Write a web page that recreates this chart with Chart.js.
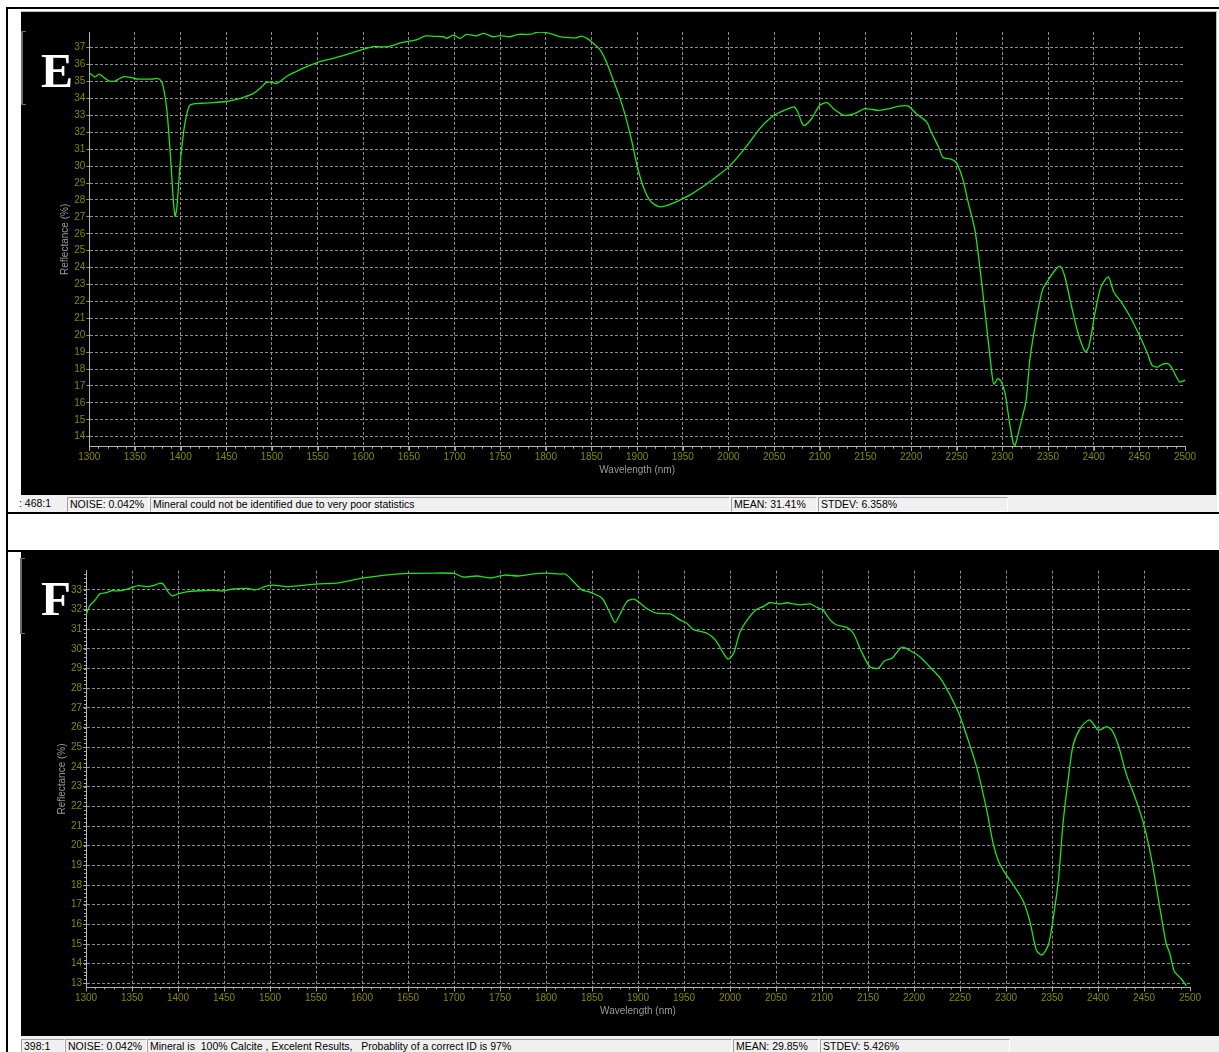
<!DOCTYPE html>
<html>
<head>
<meta charset="utf-8">
<title>Reflectance spectra E and F</title>
<script src="https://cdn.jsdelivr.net/npm/chart.js@4.4.1/dist/chart.umd.min.js"></script>
<style>
body { margin: 0; background: #fff; width: 1219px; height: 1052px; overflow: hidden; position: relative; font-family: "Liberation Sans", Arial, sans-serif; }
.rule { position: absolute; background: #000; }
.panel { position: absolute; background: #000; }
.status { position: absolute; background: #f0f0f0; }
.cell { position: absolute; box-sizing: border-box; border-left: 1px solid #a0a0a0; border-top: 1px solid #a0a0a0; border-right: 1px solid #fff; border-bottom: 1px solid #fff; font-size: 10.5px; color: #000; white-space: nowrap; padding-left: 2px; }
.tag { position: absolute; color: #fff; font-family: "Liberation Serif", "Times New Roman", serif; font-weight: bold; line-height: 1; }
.bracket { position: absolute; border-left: 2px solid #6a6a6a; border-top: 1px solid #6a6a6a; border-bottom: 1px solid #6a6a6a; width: 3px; }
.box { position: absolute; }
</style>
</head>
<body>

<div class="rule" style="left:6px; top:7px; width:1213px; height:2px;"></div>
<div class="rule" style="left:6px; top:7px; width:2px; height:1045px;"></div>
<div class="rule" style="left:6px; top:512px; width:1213px; height:2px;"></div>
<div class="rule" style="left:6px; top:550px; width:1213px; height:2px;"></div>

<!-- panel E -->
<div class="panel" style="left:21px; top:11px; width:1196px; height:484px; border-top:1px solid #bcbcbc; border-right:1px solid #bcbcbc; box-sizing:border-box;"></div>
<div class="box" style="left:21px; top:12px; width:1195px; height:483px;"><canvas id="chartE"></canvas></div>
<div class="bracket" style="left:21px; top:31px; height:72px;"></div>
<div class="tag" style="left:41px; top:47px; font-size:48px;">E</div>
<div class="status" style="left:21px; top:495px; width:1196px; height:17px;"></div>
<div class="cell" style="left:17px; top:497px; width:49px; height:15px; line-height:13px; border:none;">: 468:1</div>
<div class="cell" style="left:67px; top:497px; width:82px; height:15px; line-height:13px;">NOISE: 0.042%</div>
<div class="cell" style="left:150px; top:497px; width:580px; height:15px; line-height:13px;">Mineral could not be identified due to very poor statistics</div>
<div class="cell" style="left:731px; top:497px; width:86px; height:15px; line-height:13px;">MEAN: 31.41%</div>
<div class="cell" style="left:818px; top:497px; width:190px; height:15px; line-height:13px;">STDEV: 6.358%</div>

<!-- panel F -->
<div class="panel" style="left:21px; top:552px; width:1198px; height:484px;"></div>
<div class="box" style="left:21px; top:552px; width:1198px; height:484px;"><canvas id="chartF"></canvas></div>
<div class="bracket" style="left:20px; top:558px; height:74px;"></div>
<div class="tag" style="left:41px; top:574px; font-size:49px;">F</div>
<div class="status" style="left:21px; top:1036px; width:1198px; height:16px;"></div>
<div class="cell" style="left:21px; top:1039px; width:44px; height:15px; line-height:13px;">398:1</div>
<div class="cell" style="left:65px; top:1039px; width:82px; height:15px; line-height:13px;">NOISE: 0.042%</div>
<div class="cell" style="left:147px; top:1039px; width:585px; height:15px; line-height:13px;">Mineral is &nbsp;100% Calcite , Excelent Results, &nbsp; Probablity of a correct ID is 97%</div>
<div class="cell" style="left:733px; top:1039px; width:86px; height:15px; line-height:13px;">MEAN: 29.85%</div>
<div class="cell" style="left:820px; top:1039px; width:190px; height:15px; line-height:13px;">STDEV: 5.426%</div>

<script>
// wavelength ticks (nm), shared by both panels
const xTicks = [1300, 1350, 1400, 1450, 1500, 1550, 1600, 1650, 1700, 1750, 1800, 1850, 1900,
  1950, 2000, 2050, 2100, 2150, 2200, 2250, 2300, 2350, 2400, 2450, 2500];
const yTicksE = [14, 15, 16, 17, 18, 19, 20, 21, 22, 23, 24, 25, 26, 27, 28, 29, 30, 31, 32, 33, 34, 35, 36, 37];
const yTicksF = [13, 14, 15, 16, 17, 18, 19, 20, 21, 22, 23, 24, 25, 26, 27, 28, 29, 30, 31, 32, 33];

// spectrum E
const waveE = [1300, 1306, 1311, 1317, 1322, 1328, 1337, 1345, 1352, 1362, 1370, 1374, 1378, 1381, 1385,
  1389, 1392, 1394, 1396, 1399, 1401, 1404, 1407, 1410, 1417, 1426, 1436, 1450, 1458, 1469, 1480,
  1488, 1494, 1500, 1505, 1510, 1516, 1525, 1537, 1551, 1564, 1576, 1589, 1600, 1611, 1620, 1629,
  1642, 1658, 1668, 1678, 1688, 1691, 1699, 1706, 1713, 1724, 1732, 1742, 1750, 1760, 1770, 1784,
  1790, 1799, 1807, 1815, 1825, 1834, 1839, 1845, 1850, 1859, 1866, 1873, 1880, 1887, 1894, 1901,
  1908, 1915, 1924, 1934, 1945, 1958, 1975, 1990, 2001, 2012, 2023, 2034, 2045, 2053, 2061, 2068,
  2072, 2076, 2080, 2083, 2091, 2100, 2108, 2116, 2127, 2138, 2149, 2157, 2165, 2176, 2187, 2197,
  2206, 2217, 2222, 2230, 2235, 2244, 2250, 2257, 2262, 2270, 2277, 2284, 2289, 2291, 2295, 2299,
  2303, 2308, 2312, 2314, 2320, 2326, 2330, 2337, 2344, 2350, 2357, 2363, 2368, 2375, 2383, 2391,
  2395, 2402, 2408, 2416, 2422, 2430, 2439, 2450, 2459, 2464, 2470, 2475, 2481, 2485, 2494, 2500];
const reflE = [35.52, 35.28, 35.44, 35.2, 35.03, 35.03, 35.28, 35.25, 35.15, 35.14, 35.15, 35.19, 35.09, 34.7, 33.3,
  30.5, 28.0, 27.04, 27.6, 29.8, 30.95, 32.3, 33.12, 33.6, 33.7, 33.72, 33.75, 33.82, 33.9, 34.07, 34.3,
  34.65, 34.95, 34.95, 34.88, 35.05, 35.3, 35.55, 35.85, 36.15, 36.33, 36.5, 36.73, 36.9, 37.06, 37.05, 37.08,
  37.3, 37.46, 37.7, 37.67, 37.65, 37.55, 37.75, 37.55, 37.79, 37.7, 37.85, 37.65, 37.72, 37.65, 37.79, 37.8,
  37.91, 37.91, 37.8, 37.65, 37.6, 37.59, 37.69, 37.55, 37.36, 36.9, 36.2, 35.2, 34.2, 33.0, 31.5, 29.8,
  28.6, 27.9, 27.6, 27.7, 27.95, 28.3, 28.9, 29.5, 30.0, 30.65, 31.4, 32.2, 32.8, 33.1, 33.3, 33.45,
  33.5, 33.2, 32.6, 32.4, 32.8, 33.6, 33.75, 33.35, 33.0, 33.1, 33.4, 33.35, 33.3, 33.4, 33.55, 33.55,
  33.08, 32.62, 32.03, 31.14, 30.51, 30.41, 30.16, 29.17, 27.99, 26.2, 23.25, 19.9, 17.53, 17.1, 17.44, 17.24,
  16.55, 14.77, 13.59, 13.49, 14.77, 16.15, 18.52, 20.89, 22.7, 23.25, 23.8, 24.08, 23.55, 21.88, 20.1, 19.0,
  19.4, 21.47, 22.86, 23.45, 22.56, 21.97, 21.18, 20.0, 18.91, 18.22, 18.12, 18.28, 18.32, 18.12, 17.24, 17.34];

// spectrum F
const waveF = [1300, 1304, 1310, 1315, 1322, 1328, 1335, 1342, 1350, 1357, 1366, 1373, 1380, 1384, 1389,
  1394, 1400, 1409, 1424, 1438, 1449, 1460, 1476, 1484, 1496, 1504, 1518, 1533, 1550, 1575, 1600,
  1625, 1650, 1675, 1700, 1710, 1725, 1740, 1755, 1770, 1785, 1800, 1815, 1821, 1830, 1839, 1846,
  1851, 1861, 1868, 1875, 1880, 1888, 1895, 1900, 1909, 1920, 1935, 1946, 1953, 1960, 1975, 1984,
  1993, 1998, 2004, 2011, 2020, 2029, 2036, 2043, 2054, 2062, 2069, 2076, 2087, 2094, 2101, 2109,
  2116, 2127, 2134, 2143, 2152, 2161, 2168, 2176, 2187, 2196, 2207, 2217, 2230, 2248, 2257, 2268,
  2279, 2286, 2292, 2299, 2308, 2319, 2326, 2333, 2339, 2346, 2351, 2357, 2362, 2368, 2373, 2382,
  2391, 2400, 2406, 2409, 2415, 2422, 2431, 2440, 2449, 2458, 2467, 2474, 2478, 2483, 2490, 2496];
const reflF = [31.73, 32.19, 32.49, 32.8, 32.86, 32.96, 32.95, 33.0, 33.13, 33.22, 33.17, 33.22, 33.34, 33.29, 32.92,
  32.7, 32.8, 32.9, 32.96, 32.98, 32.95, 33.05, 33.08, 33.0, 33.2, 33.25, 33.17, 33.22, 33.3, 33.36, 33.6,
  33.76, 33.84, 33.86, 33.84, 33.66, 33.71, 33.61, 33.76, 33.71, 33.81, 33.86, 33.81, 33.81, 33.42, 33.0, 32.92,
  32.83, 32.58, 31.98, 31.34, 31.73, 32.41, 32.53, 32.41, 32.07, 31.82, 31.78, 31.47, 31.31, 31.0, 30.8, 30.46,
  29.78, 29.48, 29.78, 30.88, 31.56, 32.02, 32.15, 32.35, 32.29, 32.35, 32.29, 32.24, 32.29, 32.12, 31.98, 31.47,
  31.22, 31.1, 30.8, 29.86, 29.1, 29.02, 29.4, 29.53, 30.09, 29.91, 29.58, 29.1, 28.42, 26.81, 25.63, 24.02,
  21.82, 20.12, 19.19, 18.6, 18.0, 17.15, 16.14, 14.7, 14.44, 14.95, 16.22, 18.26, 21.14, 23.51, 25.12, 26.05,
  26.39, 25.88, 25.97, 26.05, 25.88, 25.12, 23.6, 22.49, 21.22, 19.36, 16.9, 15.04, 14.53, 13.6, 13.26, 12.87];

const lineGreen = '#1fe21f';
const gridGrey = '#8c8c8c';
const tickOlive = '#878700';
const titleGrey = '#9a9a9a';

// small minor ticks under the wavelength axis (every 10 nm) and left of the reflectance axis
const minorTicks = {
    id: 'minorTicks',
    afterDraw(chart, args, opts) {
        const {ctx, chartArea, scales: {x, y}} = chart;
        ctx.save();
        ctx.strokeStyle = '#a8a8a8';
        ctx.lineWidth = 1;
        ctx.beginPath();
        for (let v = 1300; v <= 2500; v += 10) {
            const px = Math.round(x.getPixelForValue(v)) + 0.5;
            ctx.moveTo(px, chartArea.bottom);
            ctx.lineTo(px, chartArea.bottom + (v % 50 === 0 ? 4 : 2));
        }
        if (opts.yStep) {
            for (let v = Math.ceil(y.min); v <= y.max; v += opts.yStep) {
                const py = Math.round(y.getPixelForValue(v)) + 0.5;
                ctx.moveTo(chartArea.left - 2, py);
                ctx.lineTo(chartArea.left, py);
            }
        }
        ctx.stroke();
        ctx.restore();
    }
};

function spectrumOptions(yMin, yMax, yTicks, yWidth, xHeight, pad, yTitlePad) {
    return {
        animation: false,
        responsive: true,
        maintainAspectRatio: false,
        layout: {
            padding: pad,
        },
        scales: {
            x: {
                type: 'linear',
                min: 1300,
                max: 2500,
                afterBuildTicks: s => { s.ticks = xTicks.map(v => ({value: v})); },
                afterFit: s => { s.height = xHeight; },
                ticks: {
                    color: tickOlive,
                    padding: 1,
                    maxRotation: 0,
                    autoSkip: false,
                    font: {family: 'Liberation Sans', size: 10},
                    callback: v => v,
                },
                grid: {
                    color: c => (c.tick && c.tick.value === 2500 ? 'rgba(0,0,0,0)' : gridGrey),
                    lineWidth: 1,
                    tickLength: 4,
                },
                border: {
                    color: '#b4b4b4',
                    dash: [3, 2],
                },
                title: {
                    display: true,
                    text: 'Wavelength (nm)',
                    color: titleGrey,
                    font: {family: 'Liberation Sans', size: 10},
                    padding: {top: 0, bottom: 19},
                },
            },
            y: {
                min: yMin,
                max: yMax,
                afterBuildTicks: s => { s.ticks = yTicks.map(v => ({value: v})); },
                afterFit: s => { s.width = yWidth; },
                ticks: {
                    color: tickOlive,
                    padding: 1,
                    autoSkip: false,
                    font: {family: 'Liberation Sans', size: 10},
                },
                grid: {
                    color: gridGrey,
                    lineWidth: 1,
                    tickLength: 3,
                },
                border: {
                    color: '#b4b4b4',
                    dash: [3, 2],
                },
                title: {
                    display: true,
                    text: 'Reflectance (%)',
                    color: titleGrey,
                    font: {family: 'Liberation Sans', size: 10},
                    padding: {top: yTitlePad, bottom: 0},
                },
            },
        },
        plugins: {
            legend: {display: false},
            tooltip: {enabled: false},
        },
    };
}

const chartE = new Chart(document.getElementById('chartE'), {
    type: 'line',
    data: {
        datasets: [{
            label: 'E',
            data: waveE.map((w, i) => ({x: w, y: reflE[i]})),
            borderColor: lineGreen,
            borderWidth: 1.3,
            pointRadius: 0,
            tension: 0.25,
            fill: false,
        }]
    },
    options: spectrumOptions(13.41, 37.93, yTicksE, 68.3, 48.3, {left: 0, top: 20, right: 31, bottom: 0}, 38),
    plugins: [minorTicks],
});

const chartF = new Chart(document.getElementById('chartF'), {
    type: 'line',
    data: {
        datasets: [{
            label: 'F',
            data: waveF.map((w, i) => ({x: w, y: reflF[i]})),
            borderColor: lineGreen,
            borderWidth: 1.3,
            pointRadius: 0,
            tension: 0.25,
            fill: false,
        }]
    },
    options: spectrumOptions(12.8, 33.98, yTicksF, 65, 48.7, {left: 0, top: 18.7, right: 29, bottom: 0}, 35),
    plugins: [minorTicks],
});
chartF.options.plugins.minorTicks = {yStep: 0.2};
chartF.update();
</script>
</body>
</html>
